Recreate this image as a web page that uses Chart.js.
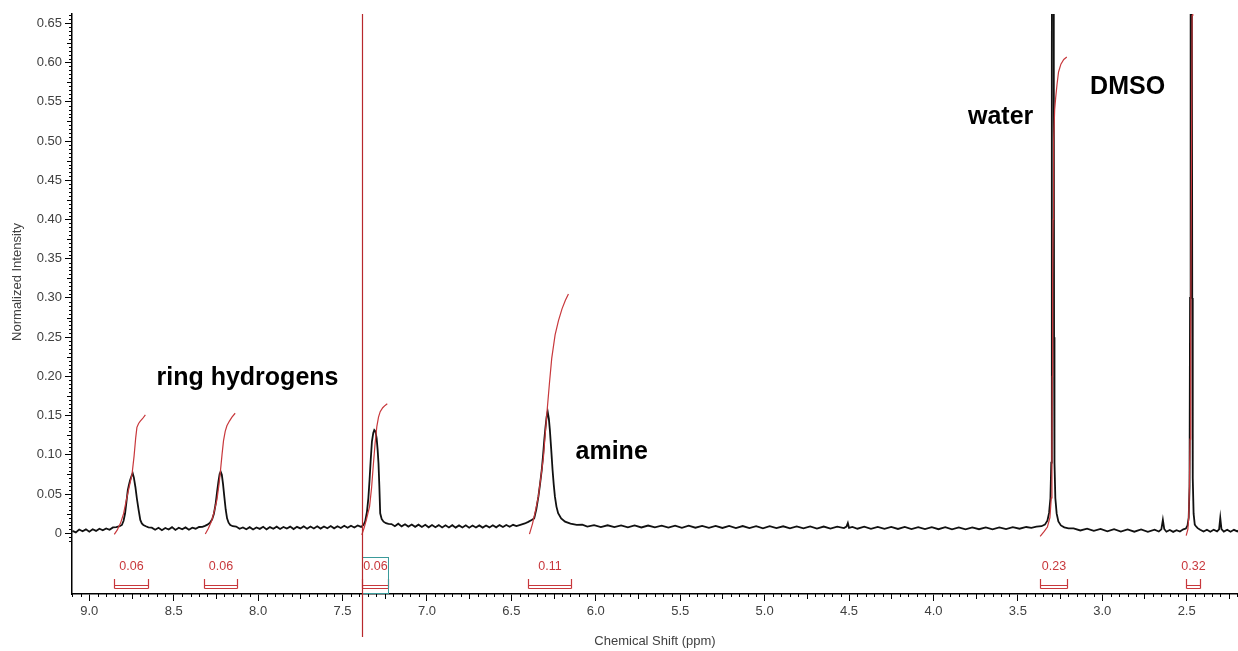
<!DOCTYPE html>
<html>
<head>
<meta charset="utf-8">
<title>1H NMR spectrum</title>
<script src="https://cdn.jsdelivr.net/npm/chart.js@4.4.1/dist/chart.umd.min.js"></script>
<style>
  html, body { margin: 0; padding: 0; background: #fff; }
  #wrap { width: 1238px; height: 651px; }
</style>
</head>
<body>
<div id="wrap"><canvas id="nmr" width="1238" height="651"></canvas></div>
<script>
// spectrum (ppm / normalized intensity)
const shiftPpm = [
  9.10, 9.08, 9.06, 9.04, 9.02, 9.00, 8.98, 8.96, 8.94, 8.92,
  8.90, 8.88, 8.86, 8.84, 8.82, 8.807, 8.797, 8.788, 8.780, 8.772,
  8.765, 8.758, 8.750, 8.743, 8.736, 8.727, 8.718, 8.708, 8.698, 8.689,
  8.680, 8.665, 8.650, 8.63, 8.61, 8.59, 8.57, 8.55, 8.53, 8.51,
  8.49, 8.47, 8.45, 8.43, 8.41, 8.39, 8.37, 8.35, 8.33, 8.315,
  8.300, 8.285, 8.272, 8.262, 8.252, 8.243, 8.235, 8.228, 8.222, 8.215,
  8.208, 8.200, 8.192, 8.184, 8.175, 8.165, 8.15, 8.13, 8.11, 8.09,
  8.07, 8.05, 8.03, 8.01, 7.99, 7.97, 7.95, 7.93, 7.91, 7.89,
  7.87, 7.85, 7.83, 7.81, 7.79, 7.77, 7.75, 7.73, 7.71, 7.69,
  7.67, 7.65, 7.63, 7.61, 7.59, 7.57, 7.55, 7.53, 7.51, 7.49,
  7.47, 7.45, 7.43, 7.41, 7.39, 7.376, 7.366, 7.355, 7.347, 7.340,
  7.333, 7.326, 7.318, 7.312, 7.305, 7.298, 7.292, 7.287, 7.282, 7.277,
  7.268, 7.257, 7.243, 7.228, 7.21, 7.19, 7.17, 7.15, 7.13, 7.11,
  7.09, 7.07, 7.05, 7.03, 7.01, 6.99, 6.97, 6.95, 6.93, 6.91,
  6.89, 6.87, 6.85, 6.83, 6.81, 6.79, 6.77, 6.75, 6.73, 6.71,
  6.69, 6.67, 6.65, 6.63, 6.61, 6.59, 6.57, 6.55, 6.53, 6.51,
  6.49, 6.47, 6.447, 6.42, 6.40, 6.38, 6.365, 6.352, 6.340, 6.330,
  6.320, 6.312, 6.305, 6.298, 6.291, 6.285, 6.278, 6.272, 6.264, 6.256,
  6.249, 6.242, 6.233, 6.223, 6.205, 6.182, 6.15, 6.113, 6.08, 6.05,
  6.01, 5.97, 5.93, 5.89, 5.85, 5.81, 5.77, 5.73, 5.69, 5.65,
  5.61, 5.57, 5.53, 5.49, 5.45, 5.41, 5.37, 5.33, 5.29, 5.25,
  5.21, 5.17, 5.13, 5.09, 5.05, 5.01, 4.97, 4.93, 4.89, 4.85,
  4.81, 4.77, 4.73, 4.69, 4.65, 4.61, 4.57, 4.53, 4.515, 4.507,
  4.50, 4.48, 4.45, 4.41, 4.37, 4.33, 4.29, 4.25, 4.21, 4.17,
  4.13, 4.09, 4.05, 4.01, 3.97, 3.93, 3.89, 3.85, 3.81, 3.77,
  3.73, 3.69, 3.65, 3.61, 3.57, 3.53, 3.49, 3.45, 3.42, 3.39,
  3.36, 3.34, 3.325, 3.315, 3.307, 3.302, 3.2995, 3.298, 3.2955, 3.2925,
  3.2895, 3.287, 3.2855, 3.283, 3.278, 3.270, 3.260, 3.245, 3.225, 3.20,
  3.17, 3.13, 3.09, 3.05, 3.01, 2.97, 2.93, 2.89, 2.85, 2.81,
  2.77, 2.73, 2.69, 2.665, 2.650, 2.641, 2.633, 2.62, 2.60, 2.58,
  2.56, 2.54, 2.52, 2.505, 2.495, 2.488, 2.483, 2.480, 2.4765, 2.4735,
  2.4705, 2.467, 2.464, 2.459, 2.452, 2.445, 2.435, 2.42, 2.40, 2.38,
  2.36, 2.34, 2.32, 2.308, 2.301, 2.294, 2.28, 2.26, 2.24, 2.22,
  2.20, 2.19
];
const intensity = [
  0.0030, 0.0012, 0.0048, 0.0025, 0.0050, 0.0020, 0.0052, 0.0030, 0.0058, 0.0038,
  0.0062, 0.0045, 0.0075, 0.0078, 0.0090, 0.0106, 0.0160, 0.0255, 0.0400, 0.0550,
  0.0620, 0.0680, 0.0730, 0.0765, 0.0710, 0.0590, 0.0440, 0.0297, 0.0170, 0.0125,
  0.0106, 0.0090, 0.0076, 0.0072, 0.0045, 0.0070, 0.0040, 0.0068, 0.0048, 0.0078,
  0.0042, 0.0070, 0.0050, 0.0075, 0.0045, 0.0072, 0.0058, 0.0080, 0.0082, 0.0095,
  0.0110, 0.0135, 0.0180, 0.0250, 0.0370, 0.0530, 0.0660, 0.0755, 0.0785, 0.0745,
  0.0630, 0.0460, 0.0300, 0.0190, 0.0135, 0.0105, 0.0090, 0.0085, 0.0058, 0.0075,
  0.0052, 0.0078, 0.0048, 0.0074, 0.0056, 0.0082, 0.0050, 0.0079, 0.0058, 0.0084,
  0.0055, 0.0080, 0.0060, 0.0085, 0.0054, 0.0082, 0.0062, 0.0088, 0.0058, 0.0086,
  0.0062, 0.0090, 0.0060, 0.0087, 0.0065, 0.0092, 0.0063, 0.0090, 0.0068, 0.0095,
  0.0070, 0.0096, 0.0074, 0.0100, 0.0082, 0.0105, 0.0150, 0.0280, 0.0450, 0.0680,
  0.0940, 0.1170, 0.1280, 0.1317, 0.1300, 0.1210, 0.1060, 0.0890, 0.0600, 0.0255,
  0.0180, 0.0148, 0.0128, 0.0119, 0.0118, 0.0090, 0.0122, 0.0088, 0.0115, 0.0085,
  0.0112, 0.0082, 0.0110, 0.0080, 0.0108, 0.0076, 0.0106, 0.0078, 0.0104, 0.0074,
  0.0102, 0.0075, 0.0103, 0.0072, 0.0100, 0.0074, 0.0102, 0.0071, 0.0098, 0.0073,
  0.0100, 0.0072, 0.0099, 0.0075, 0.0103, 0.0076, 0.0104, 0.0080, 0.0106, 0.0084,
  0.0108, 0.0092, 0.0108, 0.0125, 0.0145, 0.0168, 0.0190, 0.0310, 0.0467, 0.0630,
  0.0807, 0.1000, 0.1190, 0.1350, 0.1486, 0.1550, 0.1460, 0.1317, 0.1070, 0.0807,
  0.0620, 0.0467, 0.0340, 0.0255, 0.0190, 0.0148, 0.0122, 0.0106, 0.0110, 0.0086,
  0.0104, 0.0080, 0.0102, 0.0078, 0.0100, 0.0076, 0.0101, 0.0074, 0.0099, 0.0075,
  0.0097, 0.0072, 0.0098, 0.0070, 0.0096, 0.0071, 0.0094, 0.0069, 0.0095, 0.0068,
  0.0093, 0.0067, 0.0092, 0.0066, 0.0090, 0.0064, 0.0091, 0.0065, 0.0089, 0.0063,
  0.0088, 0.0062, 0.0087, 0.0061, 0.0086, 0.0060, 0.0084, 0.0066, 0.0085, 0.0130,
  0.0070, 0.0082, 0.0058, 0.0084, 0.0057, 0.0082, 0.0056, 0.0081, 0.0055, 0.0080,
  0.0054, 0.0079, 0.0053, 0.0078, 0.0052, 0.0077, 0.0051, 0.0076, 0.0050, 0.0075,
  0.0052, 0.0074, 0.0051, 0.0075, 0.0053, 0.0077, 0.0058, 0.0080, 0.0070, 0.0085,
  0.0090, 0.0110, 0.0160, 0.0260, 0.0450, 0.0900, 0.2500, 0.6000, 1.1000, 1.5000,
  1.1000, 0.6000, 0.2500, 0.0900, 0.0450, 0.0250, 0.0150, 0.0100, 0.0075, 0.0062,
  0.0062, 0.0036, 0.0058, 0.0030, 0.0055, 0.0025, 0.0052, 0.0022, 0.0050, 0.0020,
  0.0048, 0.0018, 0.0046, 0.0022, 0.0050, 0.0170, 0.0055, 0.0020, 0.0042, 0.0018,
  0.0040, 0.0022, 0.0050, 0.0060, 0.0100, 0.0200, 0.0600, 0.3000, 0.9000, 1.6000,
  0.9000, 0.3000, 0.0700, 0.0250, 0.0110, 0.0090, 0.0065, 0.0045, 0.0022, 0.0046,
  0.0020, 0.0045, 0.0024, 0.0050, 0.0195, 0.0052, 0.0022, 0.0046, 0.0020, 0.0044,
  0.0024, 0.0040
];

// integral curves (red), one list per integrated region
const integralShift = [
  [8.852, 8.835, 8.815, 8.797, 8.780, 8.765, 8.747, 8.735, 8.725, 8.718, 8.708, 8.698, 8.685, 8.668],
  [8.313, 8.295, 8.275, 8.260, 8.244, 8.232, 8.224, 8.214, 8.205, 8.195, 8.185, 8.170, 8.155, 8.136],
  [7.386, 7.372, 7.358, 7.340, 7.328, 7.317, 7.307, 7.297, 7.287, 7.277, 7.262, 7.248, 7.235],
  [6.393, 6.375, 6.358, 6.340, 6.325, 6.310, 6.300, 6.290, 6.275, 6.261, 6.241, 6.221, 6.200, 6.180, 6.162],
  [3.368, 3.345, 3.325, 3.310, 3.302, 3.298, 3.296, 3.294, 3.291, 3.288, 3.282, 3.276, 3.268, 3.259, 3.245, 3.228, 3.210],
  [2.503, 2.493, 2.488, 2.484, 2.480, 2.476, 2.472, 2.468, 2.464]
];
const integralValue = [
  [-0.0015, 0.004, 0.013, 0.025, 0.043, 0.058, 0.075, 0.098, 0.122, 0.135, 0.140, 0.143, 0.146, 0.151],
  [-0.001, 0.006, 0.016, 0.028, 0.043, 0.062, 0.078, 0.100, 0.118, 0.130, 0.137, 0.143, 0.148, 0.153],
  [-0.002, 0.007, 0.018, 0.034, 0.058, 0.089, 0.115, 0.136, 0.148, 0.155, 0.160, 0.163, 0.165],
  [-0.001, 0.012, 0.028, 0.047, 0.072, 0.097, 0.125, 0.152, 0.190, 0.223, 0.253, 0.271, 0.286, 0.297, 0.305],
  [-0.004, 0.002, 0.008, 0.020, 0.045, 0.10, 0.20, 0.32, 0.40, 0.50, 0.540, 0.555, 0.572, 0.588, 0.598, 0.604, 0.607],
  [-0.003, 0.005, 0.020, 0.060, 0.120, 0.250, 0.450, 0.660, 0.850]
];

// integration regions and their values
const regionStart = [8.852, 8.319, 7.386, 6.399, 3.368, 2.503];
const regionEnd = [8.654, 8.127, 7.232, 6.148, 3.207, 2.424];
const regionLabel = ['0.06', '0.06', '0.06', '0.11', '0.23', '0.32'];
const selectedRegion = 2;
const cursorShift = 7.386;

// annotations
const noteText = ['ring hydrogens', 'amine', 'water', 'DMSO'];
const noteShift = [8.063, 5.906, 3.602, 2.850];
const noteValue = [0.198, 0.1036, 0.5306, 0.569];

const xTickValues = [9.0, 8.5, 8.0, 7.5, 7.0, 6.5, 6.0, 5.5, 5.0, 4.5, 4.0, 3.5, 3.0, 2.5];
const yTickValues = [0, 0.05, 0.10, 0.15, 0.20, 0.25, 0.30, 0.35, 0.40, 0.45, 0.50, 0.55, 0.60, 0.65];

const FONT = "'Liberation Sans', Arial, sans-serif";
const RED = '#c8383c';
Chart.defaults.font.family = FONT;

const spectrumData = shiftPpm.map((p, i) => ({ x: p, y: intensity[i] }));

const datasets = [{
  label: 'spectrum',
  data: spectrumData,
  borderColor: '#111',
  borderWidth: 1.8,
  pointRadius: 0,
  order: 2
}];
integralShift.forEach((arr, k) => {
  datasets.push({
    label: 'integral ' + (k + 1),
    data: arr.map((p, i) => ({ x: p, y: integralValue[k][i] })),
    borderColor: RED,
    borderWidth: 1.2,
    pointRadius: 0,
    order: 1
  });
});

const extras = {
  id: 'extras',
  afterDraw(chart) {
    const { ctx, chartArea: ca, scales: { x, y } } = chart;
    const b = Math.round(ca.bottom);
    ctx.save();

    // minor ticks on both axes
    ctx.strokeStyle = '#000';
    ctx.lineWidth = 1;
    ctx.beginPath();
    for (let k = -2; k <= 132; k++) {
      if (k % 10 === 0) continue;
      const len = k % 5 === 0 ? 5 : 3;
      const py = Math.round(y.getPixelForValue(k * 0.005)) + 0.5;
      ctx.moveTo(ca.left - len, py);
      ctx.lineTo(ca.left, py);
    }
    for (let k = 44; k <= 182; k++) {
      if (k % 10 === 0) continue;
      const len = k % 5 === 0 ? 5 : 3;
      const px = Math.round(x.getPixelForValue(k * 0.05)) + 0.5;
      ctx.moveTo(px, b);
      ctx.lineTo(px, b + len);
    }
    ctx.stroke();

    // integration brackets + values
    ctx.strokeStyle = RED;
    ctx.fillStyle = RED;
    ctx.font = '12.5px ' + FONT;
    ctx.textAlign = 'center';
    ctx.textBaseline = 'middle';
    regionStart.forEach((s, i) => {
      const x1 = Math.round(x.getPixelForValue(s)) + 0.5;
      const x2 = Math.round(x.getPixelForValue(regionEnd[i])) + 0.5;
      ctx.lineWidth = 1.2;
      ctx.beginPath();
      ctx.moveTo(x1, b - 15); ctx.lineTo(x1, b - 5.5);
      ctx.moveTo(x2, b - 15); ctx.lineTo(x2, b - 5.5);
      ctx.moveTo(x1, b - 8.5); ctx.lineTo(x2, b - 8.5);
      ctx.moveTo(x1, b - 5.5); ctx.lineTo(x2, b - 5.5);
      ctx.stroke();
      ctx.fillText(regionLabel[i], (x1 + x2) / 2, b - 27);
      if (i === selectedRegion) {
        ctx.strokeStyle = '#3a9a9a';
        ctx.lineWidth = 1;
        ctx.strokeRect(x1, b - 36.5, x2 - x1, 36);
        ctx.strokeStyle = RED;
      }
    });

    // cursor line
    const cx = Math.round(x.getPixelForValue(cursorShift)) + 0.5;
    ctx.strokeStyle = '#b8282c';
    ctx.lineWidth = 1.2;
    ctx.beginPath();
    ctx.moveTo(cx, ca.top);
    ctx.lineTo(cx, b + 43);
    ctx.stroke();

    // peak annotations
    ctx.fillStyle = '#000';
    ctx.font = 'bold 25px ' + FONT;
    noteText.forEach((t, i) => {
      ctx.fillText(t, x.getPixelForValue(noteShift[i]), y.getPixelForValue(noteValue[i]));
    });

    // y axis title
    ctx.fillStyle = '#404040';
    ctx.font = '13px ' + FONT;
    ctx.translate(17.5, 282);
    ctx.rotate(-Math.PI / 2);
    ctx.fillText('Normalized Intensity', 0, 0);
    ctx.restore();
  }
};

new Chart(document.getElementById('nmr'), {
  type: 'line',
  data: { datasets: datasets },
  plugins: [extras],
  options: {
    responsive: false,
    devicePixelRatio: 1,
    animation: false,
    layout: { padding: { top: 14, right: 0, left: 0, bottom: 0 } },
    plugins: { legend: { display: false }, tooltip: { enabled: false } },
    elements: { line: { tension: 0 } },
    scales: {
      x: {
        type: 'linear',
        reverse: true,
        min: 2.196,
        max: 9.1025,
        afterBuildTicks: (scale) => { scale.ticks = xTickValues.map(v => ({ value: v })); },
        afterFit: (scale) => { scale.height = 57; },
        ticks: {
          color: '#404040',
          font: { size: 13 },
          padding: 3,
          maxRotation: 0,
          callback: (v) => Number(v).toFixed(1)
        },
        grid: { drawOnChartArea: false, drawTicks: true, tickLength: 7, tickColor: '#000' },
        border: { display: true, color: '#000', width: 1.5 },
        title: {
          display: true,
          text: 'Chemical Shift (ppm)',
          color: '#404040',
          font: { size: 13 },
          padding: { top: 0, bottom: 2 }
        }
      },
      y: {
        type: 'linear',
        min: -0.0774,
        max: 0.6619,
        afterBuildTicks: (scale) => { scale.ticks = yTickValues.map(v => ({ value: v })); },
        afterFit: (scale) => { scale.width = 72; },
        ticks: {
          color: '#404040',
          font: { size: 13 },
          padding: 3,
          callback: (v) => v === 0 ? '0' : Number(v).toFixed(2)
        },
        grid: { drawOnChartArea: false, drawTicks: true, tickLength: 7, tickColor: '#000' },
        border: { display: true, color: '#000', width: 1.5 }
      }
    }
  }
});
</script>
</body>
</html>
